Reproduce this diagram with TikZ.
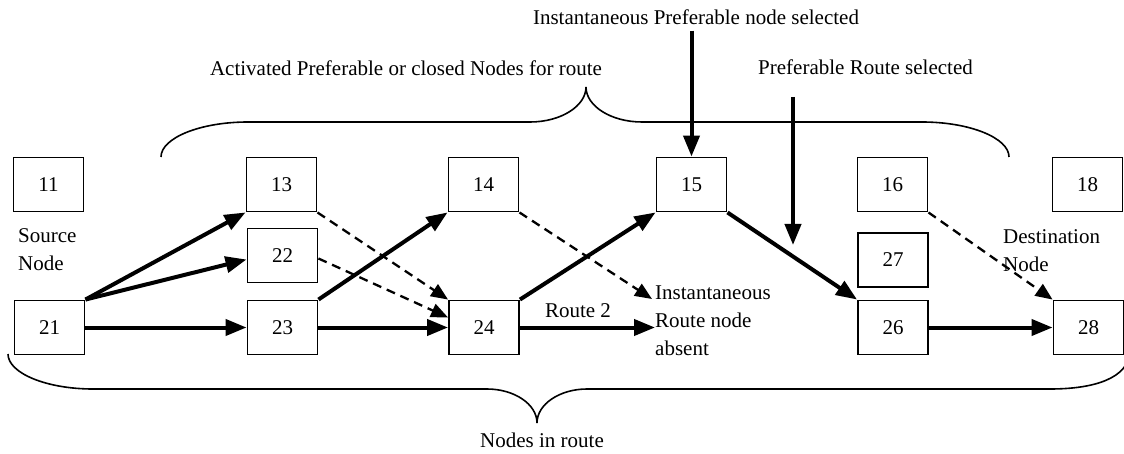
\documentclass[tikz,border=0pt]{standalone}
\usepackage{fontspec}
\setmainfont{Liberation Serif}
\usetikzlibrary{arrows.meta,calc}
\begin{document}
\begin{tikzpicture}[x=1pt,y=-1pt,
  box/.style={draw,line width=1.9pt,minimum width=70pt,minimum height=54pt,inner sep=0pt,fill=white,font=\fontsize{21}{28}\selectfont},
  lbl/.style={font=\fontsize{21}{28}\selectfont,inner sep=0pt,align=left},
  solidarr/.style={line width=4pt,-{Triangle[length=21pt,width=16pt]}},
  dasharr/.style={line width=2.3pt,dash pattern=on 9pt off 6pt,-{Triangle[length=17pt,width=14pt]}},
  bracepath/.style={line width=1.6pt}]
\useasboundingbox (0,0) rectangle (1124,454);
\fill[white] (0,0) rectangle (1124,454);

% braces
\draw[bracepath] (161,157) .. controls (161,138) and (200,122) .. (248,122) -- (530,122)
  .. controls (561,122) and (586,106) .. (586,87)
  .. controls (586,106) and (611,122) .. (642,122) -- (922,122)
  .. controls (970,122) and (1009,138) .. (1009,157);
\draw[bracepath] (8,354) .. controls (8,373) and (46,389) .. (93,389) -- (487,389)
  .. controls (514,389) and (537,404) .. (537,423)
  .. controls (537,404) and (560,389) .. (587,389) -- (1050,389)
  .. controls (1095,389) and (1128,378) .. (1130,352);

% boxes
\node[box] (n11) at (48.5,184.5) {11};
\node[box] (n13) at (281.5,184.5) {13};
\node[box] (n14) at (483.5,184.5) {14};
\node[box] (n15) at (691.5,184.5) {15};
\node[box] (n16) at (892.5,184.5) {16};
\node[box] (n18) at (1087.5,184.5) {18};
\node[box] (n22) at (282.5,255.5) {22};
\node[box] (n27) at (893,260) {27};
\node[box] (n21) at (49.5,327.5) {21};
\node[box] (n23) at (282.5,327.5) {23};
\node[box] (n24) at (484,327.5) {24};
\node[box] (n26) at (893,327.5) {26};
\node[box] (n28) at (1088.5,327.5) {28};

% labels
\node[lbl] (t1) at (696,17) {Instantaneous Preferable node selected};
\node[lbl] (t2) at (406,68) {Activated Preferable or closed Nodes for route};
\node[lbl] (t3) at (865.5,67) {Preferable Route selected};
\node[lbl] (t4) at (542,440) {Nodes in route};
\node[lbl,anchor=west] (src) at (18,250) {Source\\Node};
\node[lbl,anchor=west] (dst) at (1003,251) {Destination\\Node};
\node[lbl,anchor=west] (absent) at (655,321) {Instantaneous\\Route node\\absent};
\node[lbl] (r2) at (578,311) {Route 2};

% solid arrows
\draw[solidarr] (n21.north east) -- (n13.south west);
\draw[solidarr] (n21.north east) -- ($(n22.west)+(0,4)$);
\draw[solidarr] (n21.east) -- (n23.west);
\draw[solidarr] (n23.north east) -- (n14.south west);
\draw[solidarr] (n23.east) -- (n24.west);
\draw[solidarr] (n24.north east) -- (n15.south west);
\draw[solidarr] (n24.east) -- (n24.east -| absent.west);
\draw[solidarr] (n15.south east) -- (n26.north west);
\draw[solidarr] (n26.east) -- (n28.west);
\draw[solidarr] ($(t1.south -| n15.north)+(0,6)$) -- (n15.north);
\coordinate (pr1) at (793,97);
\coordinate (pr2) at (793,245);
\draw[solidarr] (pr1) -- (pr2);

% dashed arrows
\draw[dasharr] (n13.south east) -- (n24.north west);
\draw[dasharr] ($(n22.east)+(0,3)$) -- ($(n24.west)+(0,-10)$);
\draw[dasharr] (n14.south east) -- ($(absent.west)+(-3,-22)$);
\draw[dasharr] (n16.south east) -- (n28.north west);
\end{tikzpicture}
\end{document}
